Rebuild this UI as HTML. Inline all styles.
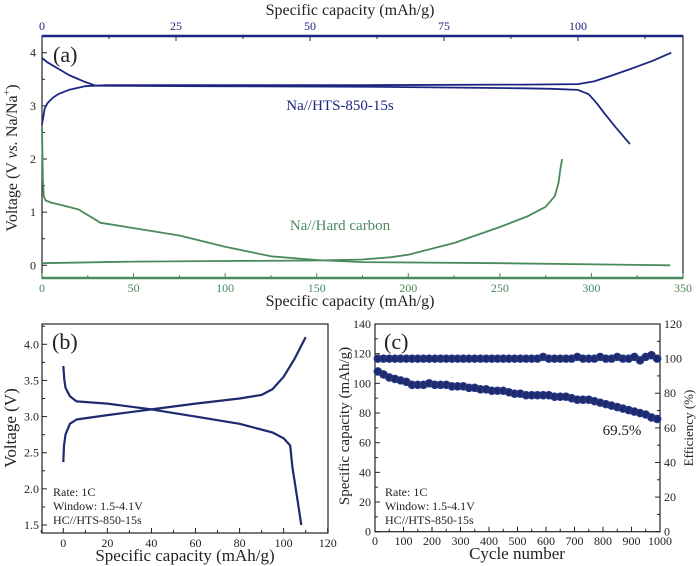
<!DOCTYPE html>
<html><head><meta charset="utf-8"><style>
body{margin:0;background:#fff;}
svg{display:block;font-family:"Liberation Serif",serif;}
</style></head><body>
<svg id="fig" width="700" height="566" viewBox="0 0 700 566"></svg>
<script>
// ---- Panel (a) data ----
const aBlueChargeX=[0,0.5,1,2,3,5,8,12,30,60,90,100,103,106,110,114,117.4];
const aBlueChargeY=[2.65,2.95,3.05,3.15,3.22,3.3,3.37,3.39,3.39,3.39,3.4,3.41,3.46,3.56,3.7,3.85,4.0];
const aBlueDisX=[0,1,3,5,8,10,30,60,90,95,100,102,103.5,105,107,109.7];
const aBlueDisY=[3.9,3.82,3.7,3.58,3.45,3.38,3.37,3.36,3.33,3.32,3.3,3.22,3.05,2.85,2.6,2.28];
const aGreenDisX=[0,0.5,1,2,5,10,20,32,50,75,100,125,150,175,250,343];
const aGreenDisY=[2.6,1.6,1.3,1.22,1.18,1.14,1.05,0.8,0.7,0.56,0.35,0.17,0.1,0.06,0.04,0.0];
const aGreenChX=[0,50,100,150,175,190,200,225,250,265,275,280,282,283,284];
const aGreenChY=[0.04,0.07,0.08,0.09,0.11,0.15,0.2,0.42,0.72,0.92,1.1,1.3,1.55,1.8,2.0];
const aBottomTicks=[0,50,100,150,200,250,300,350];
const aTopTicks=[0,25,50,75,100];
const aYTicks=[0,1,2,3,4];
// ---- Panel (b) data ----
const bChargeX=[0,0.3,1,3,6,20,40,60,80,90,95,100,105,110];
const bChargeY=[2.37,2.6,2.75,2.9,2.96,3.02,3.1,3.18,3.25,3.3,3.38,3.55,3.8,4.1];
const bDisX=[0,0.5,1,3,6,20,40,60,80,95,100,103,104,106,108];
const bDisY=[3.7,3.5,3.4,3.28,3.21,3.18,3.1,3.0,2.9,2.78,2.7,2.6,2.3,1.9,1.5];
const bXTicks=[0,20,40,60,80,100,120];
const bYTicks=[1.5,2.0,2.5,3.0,3.5,4.0];
// ---- Panel (c) data ----
const cCycles=[10,30,50,70,90,110,130,150,170,190,210,230,250,270,290,310,330,350,370,390,410,430,450,470,490,510,530,550,570,590,610,630,650,670,690,710,730,750,770,790,810,830,850,870,890,910,930,950,970,990];
const cCapacity=[108,106,104,103,102,101,99,99,99,100,99,99,99,98,98,98,97,97,96,96,95,95,95,94,93,93,92,92,92,92,92,91,91,91,90,89,89,89,88,87,86,85,84,83,82,81,80,79,77,76];
const cEfficiency=[100,100,100,100,100,100,100,100,100,100,100,100,100,100,100,100,100,100,100,100,100,100,100,100,100,100,100,100,100,101,100,100,100,100,100,101,100,100,100,101,100,100,101,100,100,101,99,101,102,100];
const cXTicks=[0,100,200,300,400,500,600,700,800,900,1000];
const cYLTicks=[0,20,40,60,80,100,120,140];
const cYRTicks=[0,20,40,60,80,100,120];

const NS="http://www.w3.org/2000/svg";
const svg=document.getElementById('fig');
function el(tag,attrs,parent){const e=document.createElementNS(NS,tag);for(const k in attrs)e.setAttribute(k,attrs[k]);(parent||svg).appendChild(e);return e;}
function txt(x,y,s,size,fill,anchor,rot){const t=el('text',{x:x,y:y,'font-size':size,fill:fill||'#222','text-anchor':anchor||'middle'});if(rot)t.setAttribute('transform','rotate(-90 '+x+' '+y+')');t.textContent=s;return t;}
function lin(d0,d1,r0,r1){return v=>r0+(v-d0)/(d1-d0)*(r1-r0);}
function path(xs,ys,fx,fy,color,w){let d='';for(let i=0;i<xs.length;i++)d+=(i?'L':'M')+fx(xs[i]).toFixed(1)+','+fy(ys[i]).toFixed(1);return el('path',{d:d,fill:'none',stroke:color,'stroke-width':w||1.8,'stroke-linejoin':'round'});}

const BLUE='#1c2580', GREEN='#4a8a5c', NAVY='#1e2a6e';

// ===== Panel (a) =====
const aX=lin(0,350,42,683), aXt=lin(0,119.6,42,683), aY=lin(0,4,265.3,52.7);
el('rect',{x:42,y:36,width:641,height:242,fill:'none',stroke:'#222','stroke-width':1.2});
el('line',{x1:42,y1:36,x2:683,y2:36,stroke:BLUE,'stroke-width':2.5});
el('line',{x1:42,y1:278,x2:683,y2:278,stroke:GREEN,'stroke-width':2.5});
for(let v=0;v<=350;v+=25){const x=aX(v);el('line',{x1:x,y1:278,x2:x,y2:278-(v%50?3:5),stroke:GREEN,'stroke-width':1});}
for(let v=0;v<=119;v+=12.5){const x=aXt(v);el('line',{x1:x,y1:36,x2:x,y2:36+(v%25?3:5),stroke:BLUE,'stroke-width':1});}
for(let v=0;v<=4;v+=0.5){const y=aY(v);el('line',{x1:42,y1:y,x2:42+(v%1?3:5),y2:y,stroke:'#222','stroke-width':1});}
aBottomTicks.forEach(v=>{const t=txt(aX(v),292,String(v),12,GREEN);});
aTopTicks.forEach(v=>{const t=txt(aXt(v),30,String(v),12,BLUE);});
aYTicks.forEach(v=>{const t=txt(36,aY(v)+4,String(v),12,'#222','end');});
let t;
t=txt(350,15,'Specific capacity (mAh/g)',16,'#222');
t=txt(350,306,'Specific capacity (mAh/g)',16,'#222');
t=el('text',{x:17,y:158,'font-size':16,fill:'#222','text-anchor':'middle',transform:'rotate(-90 17 158)'});
t.innerHTML='Voltage (V <tspan font-style="italic">vs.</tspan> Na/Na<tspan font-size="10" dy="-7">+</tspan><tspan dy="7">)</tspan>';

t=txt(53,62,'(a)',22,'#222','start');
t=txt(340,110,'Na//HTS-850-15s',15,BLUE);
t=txt(340,230,'Na//Hard carbon',15,GREEN);
let p;
p=path(aBlueChargeX,aBlueChargeY,aXt,aY,BLUE,1.8);
p=path(aBlueDisX,aBlueDisY,aXt,aY,BLUE,1.8);
p=path(aGreenDisX,aGreenDisY,aX,aY,GREEN,1.8);
p=path(aGreenChX,aGreenChY,aX,aY,GREEN,1.8);

// ===== Panel (b) =====
const bX=lin(0,120,63.3,327.7), bY=lin(1.5,4.0,525,344.3);
el('rect',{x:42,y:324,width:286,height:209,fill:'none',stroke:'#222','stroke-width':1.2});
for(let v=-10;v<=120;v+=10){const x=bX(v);el('line',{x1:x,y1:533,x2:x,y2:533-(v%20?3:5),stroke:'#222','stroke-width':1});}
for(let v=1.5;v<=4.25;v+=0.25){const y=bY(v);el('line',{x1:42,y1:y,x2:42+(Math.abs(v*2-Math.round(v*2))>0.01?3:5),y2:y,stroke:'#222','stroke-width':1});}
bXTicks.forEach(v=>{const t=txt(bX(v),547,String(v),12,'#222');});
bYTicks.forEach(v=>{const t=txt(39,bY(v)+4,v.toFixed(1),12,'#222','end');});
t=txt(185,561,'Specific capacity (mAh/g)',17,'#222');
t=txt(16,428,'Voltage (V)',17,'#222','middle',true);
t=txt(52,349,'(b)',22,'#222','start');
t=txt(53,496,'Rate: 1C',12,'#222','start');
t=txt(53,510,'Window: 1.5-4.1V',12,'#222','start');
t=txt(53,524,'HC//HTS-850-15s',12,'#222','start');
p=path(bChargeX,bChargeY,bX,bY,NAVY,2.2);
p=path(bDisX,bDisY,bX,bY,NAVY,2.2);

// ===== Panel (c) =====
const cX=lin(0,1000,375,660), cYL=lin(0,140,531.7,324), cYR=lin(0,120,531.7,324);
el('rect',{x:375,y:324,width:285,height:207.7,fill:'none',stroke:'#222','stroke-width':1.2});
for(let v=0;v<=1000;v+=50){const x=cX(v);el('line',{x1:x,y1:531.7,x2:x,y2:531.7-(v%100?3:5),stroke:'#222','stroke-width':1});}
for(let v=0;v<=140;v+=10){const y=cYL(v);el('line',{x1:375,y1:y,x2:375+(v%20?3:5),y2:y,stroke:'#222','stroke-width':1});}
for(let v=0;v<=120;v+=10){const y=cYR(v);el('line',{x1:660,y1:y,x2:660-(v%20?3:5),y2:y,stroke:'#222','stroke-width':1});}
cXTicks.forEach(v=>{const t=txt(cX(v),545,String(v),12,'#222');});
cYLTicks.forEach(v=>{const t=txt(371,cYL(v)+4,String(v),12,'#222','end');});
cYRTicks.forEach(v=>{const t=txt(664,cYR(v)+4,String(v),12,'#222','start');});
t=txt(517,559,'Cycle number',17,'#222');
t=txt(349,426,'Specific capacity (mAh/g)',15,'#222','middle',true);
t=txt(693,428,'Efficiency (%)',13,'#222','middle',true);
t=txt(384,349,'(c)',22,'#222','start');
t=txt(385,496,'Rate: 1C',12,'#222','start');
t=txt(385,510,'Window: 1.5-4.1V',12,'#222','start');
t=txt(385,524,'HC//HTS-850-15s',12,'#222','start');
t=txt(622,435,'69.5%',15,'#222','middle');
const gCap=el('g',{});


const gEff=el('g',{});


cCycles.forEach((c,i)=>{
  const a=el('circle',{cx:cX(c),cy:cYL(cCapacity[i]),r:3.8,fill:NAVY,stroke:'#2b3a8a','stroke-width':1},gCap);
  
  
  const b=el('circle',{cx:cX(c),cy:cYR(cEfficiency[i]),r:3.8,fill:NAVY,stroke:'#2b3a8a','stroke-width':1},gEff);
  
  
});
</script>
</body></html>
